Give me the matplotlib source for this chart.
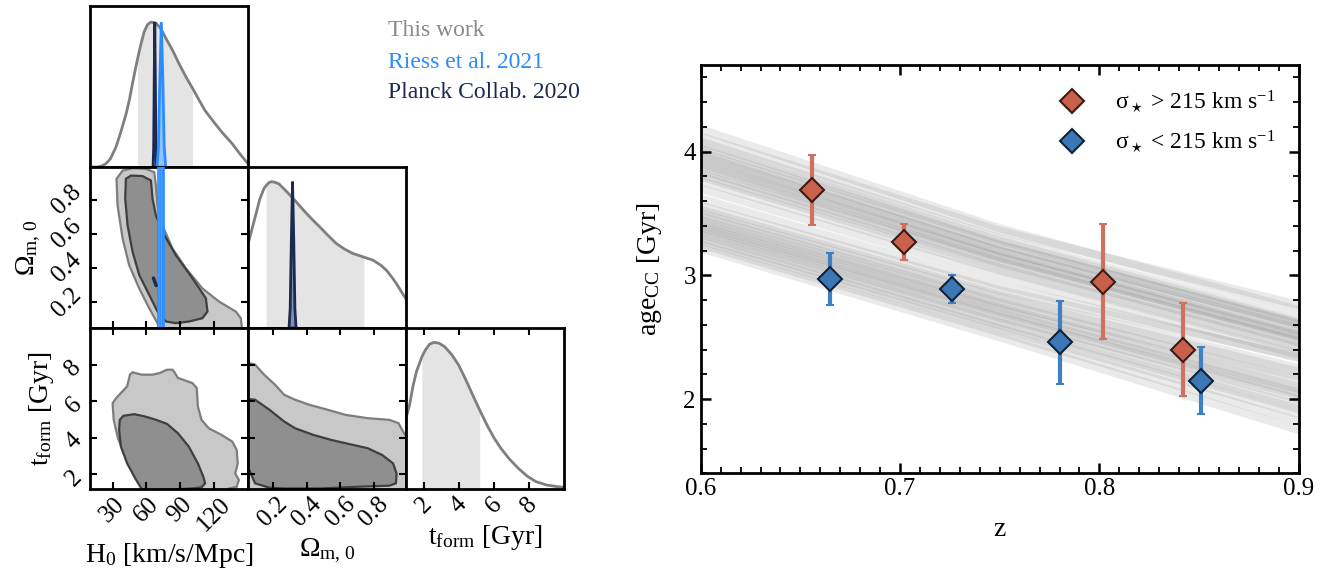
import numpy as np
import matplotlib
matplotlib.use('Agg')
import matplotlib.pyplot as plt
from matplotlib.lines import Line2D

plt.rcParams['font.family'] = ['Liberation Serif', 'DejaVu Serif']
plt.rcParams['mathtext.fontset'] = 'custom'
plt.rcParams['mathtext.rm'] = 'Liberation Serif'
plt.rcParams['mathtext.it'] = 'Liberation Serif:italic'
plt.rcParams['mathtext.bf'] = 'Liberation Serif:bold'

# ---------------- corner plot data ----------------
# 1D marginals, height as fraction of the panel
h0_x = [10, 16, 20, 24, 28, 33, 37, 42, 45, 47.7, 50, 52.1, 55, 58, 61, 64, 67.8, 71, 74.2, 78,
        83.1, 89, 95, 100.8, 106.7, 112, 118.5, 127, 136, 143, 150]
h0_y = [0, 0, 0.005, 0.02, 0.05, 0.124, 0.21, 0.33, 0.42, 0.52, 0.60, 0.67, 0.76, 0.84, 0.885, 0.9,
        0.896, 0.875, 0.84, 0.79, 0.726, 0.64, 0.56, 0.49, 0.415, 0.35, 0.29, 0.215, 0.145, 0.08, 0.02]
h0_band = (52.1, 100.8)

om_x = [0.05, 0.07, 0.094, 0.12, 0.144, 0.158, 0.175, 0.19, 0.21, 0.234, 0.27, 0.314, 0.354, 0.394,
        0.434, 0.474, 0.524, 0.574, 0.624, 0.674, 0.74, 0.794, 0.84, 0.874, 0.91, 0.934, 0.96, 0.99]
om_y = [0.52, 0.6, 0.694, 0.80, 0.864, 0.885, 0.903, 0.909, 0.905, 0.895, 0.858, 0.81, 0.763, 0.716,
        0.672, 0.631, 0.577, 0.526, 0.49, 0.463, 0.44, 0.421, 0.39, 0.358, 0.31, 0.274, 0.23, 0.18]
om_band = (0.158, 0.74)

tf_x = [1.0, 1.2, 1.4, 1.6, 1.9, 2.1, 2.35, 2.6, 2.9, 3.2, 3.6, 4.0, 4.4, 4.8, 5.2, 5.6, 6.0, 6.4,
        6.9, 7.4, 7.9, 8.4, 9.0, 9.6, 10]
tf_y = [0.44, 0.52, 0.64, 0.73, 0.82, 0.863, 0.9, 0.911, 0.905, 0.884, 0.835, 0.77, 0.68, 0.584,
        0.49, 0.40, 0.32, 0.253, 0.185, 0.128, 0.08, 0.046, 0.025, 0.015, 0.01]
tf_band = (1.9, 5.2)

# literature constraints (spikes)
riess_x = [69.3, 70.6, 71.9, 73.2, 74.5, 75.8, 77.1]
riess_y = [0, 0.12, 0.55, 0.9, 0.55, 0.12, 0]
riess_band2 = (70.6, 75.8)
riess_band1 = (71.9, 74.5)
planck_h0_x = [65.9, 66.4, 66.9, 67.4, 67.9, 68.4, 68.9]
planck_h0_y = [0, 0.12, 0.55, 0.9, 0.55, 0.12, 0]
planck_om_x = [0.294, 0.301, 0.308, 0.315, 0.322, 0.329, 0.336]
planck_om_y = [0, 0.12, 0.55, 0.909, 0.55, 0.12, 0]
planck_2d_h0 = [66.2, 68.6]
planck_2d_om = [0.342, 0.298]

# 2D credible regions
ho_out_x = [33.5, 38.9, 47.7, 59.6, 66.9, 68.4, 69.8, 74.2, 83.1, 95, 109.6, 124.4, 139.2, 143.6, 145, 71.3, 69.8, 62.5, 53.6, 44.7, 38.9, 34.4]
ho_out_y = [0.921, 0.969, 0.983, 0.979, 0.96, 0.882, 0.766, 0.649, 0.514, 0.398, 0.281, 0.204, 0.146, 0.107, 0.03, 0.03, 0.078, 0.165, 0.281, 0.417, 0.572, 0.766]
ho_in_x = [41.8, 46.3, 56.5, 64, 65.4, 68.4, 74.2, 86.1, 100.8, 112.7, 114.1, 109.6, 97.9, 86.1, 77.3, 71.3, 64, 53.6, 47.7, 43.3, 41.2]
ho_in_y = [0.921, 0.94, 0.937, 0.911, 0.805, 0.708, 0.611, 0.475, 0.34, 0.223, 0.146, 0.107, 0.088, 0.078, 0.088, 0.126, 0.223, 0.36, 0.495, 0.649, 0.805]

ht_out_x = [30, 33.2, 42.9, 45.4, 47.7, 55.7, 65.4, 71.8, 78.2, 83.1, 85.3, 87.9, 100.7, 104.6, 105.6, 108.8, 115.2, 126.5, 136.1, 140, 140.9, 138.7, 141.9, 140, 132.9, 130, 62.2, 55.7, 49.3, 41.3, 34.8, 31]
ht_out_y = [5.89, 6.17, 6.81, 7.45, 7.58, 7.45, 7.45, 7.54, 7.72, 7.72, 7.54, 7.27, 6.99, 6.72, 5.71, 4.98, 4.52, 4.16, 3.79, 3.33, 2.6, 2.05, 1.69, 1.32, 1.23, 0.9, 0.9, 1.42, 2.05, 2.97, 3.97, 4.98]
ht_in_x = [36.4, 39.6, 49.3, 58.9, 68.6, 78.2, 87.9, 97.5, 105.6, 110.4, 112, 108.8, 100.7, 71.8, 57.3, 50.9, 42.9, 37.4, 35.8]
ht_in_y = [4.98, 5.2, 5.29, 5.16, 4.98, 4.76, 4.25, 3.52, 2.6, 1.87, 1.51, 1.29, 1.23, 1.14, 1.05, 1.69, 2.6, 3.52, 4.43]

ot_out_x = [0.0, 0.042, 0.092, 0.146, 0.211, 0.265, 0.33, 0.416, 0.524, 0.632, 0.762, 0.891, 0.945, 0.978, 1.02, 1.02, 0.0]
ot_out_y = [8.12, 8.12, 8.0, 7.45, 6.9, 6.35, 6.08, 5.8, 5.53, 5.25, 5.07, 4.98, 4.8, 4.25, 3.7, 0.8, 0.8]
ot_in_x = [0.0, 0.06, 0.092, 0.178, 0.265, 0.33, 0.438, 0.546, 0.675, 0.762, 0.848, 0.913, 0.934, 0.93, 0.891, 0.697, 0.481, 0.265, 0.178, 0.092, 0.049, 0.03, 0.0]
ot_in_y = [6.1, 6.11, 6.08, 5.53, 4.89, 4.52, 4.16, 3.88, 3.61, 3.43, 3.06, 2.6, 2.05, 1.51, 1.38, 1.32, 1.23, 1.23, 1.27, 1.51, 2.42, 3.33, 3.4]

h0_ticks = [30, 60, 90, 120]
om_ticks = [0.2, 0.4, 0.6, 0.8]
tf_ticks = [2, 4, 6, 8]

# ---------------- right panel data ----------------
red_z = [0.656, 0.702, 0.802, 0.842]
red_age = [3.69, 3.27, 2.95, 2.40]
red_err = [0.28, 0.145, 0.465, 0.375]
blue_z = [0.665, 0.726, 0.780, 0.851]
blue_age = [2.97, 2.89, 2.46, 2.15]
blue_err = [0.21, 0.115, 0.335, 0.27]

z_grid = [0.6, 0.75, 0.9]
upper_lines = [[4.18, 3.38, 2.72], [4.12, 3.36, 2.76], [4.08, 3.30, 2.65], [4.05, 3.28, 2.62],
               [4.02, 3.25, 2.60], [3.99, 3.24, 2.61], [3.97, 3.20, 2.55], [3.95, 3.20, 2.57],
               [3.92, 3.17, 2.52], [3.90, 3.15, 2.50], [3.88, 3.14, 2.51], [3.85, 3.11, 2.46],
               [3.82, 3.10, 2.47], [3.80, 3.06, 2.42], [3.76, 3.04, 2.40], [3.70, 2.99, 2.36]]
lower_lines = [[3.62, 2.92, 2.33], [3.56, 2.88, 2.34], [3.53, 2.84, 2.25], [3.50, 2.82, 2.22],
               [3.48, 2.78, 2.15], [3.45, 2.77, 2.18], [3.43, 2.74, 2.10], [3.41, 2.72, 2.08],
               [3.39, 2.70, 2.05], [3.37, 2.67, 2.00], [3.35, 2.66, 2.03], [3.33, 2.62, 1.95],
               [3.30, 2.60, 1.92], [3.28, 2.57, 1.88], [3.25, 2.54, 1.82], [3.22, 2.50, 1.75]]

# ---------------- figure ----------------
W, H = 1340, 579
fig = plt.figure(figsize=(W / 100, H / 100), dpi=100)


def px_axes(x0, y0, x1, y1):
    return fig.add_axes([x0 / W, 1 - y1 / H, (x1 - x0) / W, (y1 - y0) / H])


GRAY = '#7f7f7f'
LIGHT = '#e4e4e4'
RIESS = '#2b8cff'
PLANCK = '#1c2951'


def corner_style(ax, top=True):
    for s in ax.spines.values():
        s.set_linewidth(2)
    ax.tick_params(direction='in', length=5, width=1.5, top=top, right=True, labelsize=18, pad=3)


def marginal(ax, x, y, band, lims):
    x = np.array(x)
    y = np.array(y)
    ax.fill_between(x, 0, y, where=(x >= band[0]) & (x <= band[1]), color=LIGHT, lw=0)
    ax.plot(x, y, color=GRAY, lw=2)
    ax.set_xlim(lims)
    ax.set_ylim(0, 1)
    ax.set_yticks([])


def region(ax, xo, yo, xi, yi):
    ax.fill(xo, yo, facecolor='#c8c8c8', edgecolor='#7d7d7d', lw=1.6)
    ax.fill(xi, yi, facecolor='#8f8f8f', edgecolor='#3f3f3f', lw=1.6)


H0_LIM = (10, 150)
OM_LIM = (0.05, 0.99)
TF_LIM = (1.0, 10.0)
TF_YLIM = (1.2, 10.0)

# H0 marginal
ax_h = px_axes(90, 6, 248, 167)
marginal(ax_h, h0_x, h0_y, h0_band, H0_LIM)
ax_h.fill(planck_h0_x, planck_h0_y, facecolor='#8090b0', edgecolor=PLANCK, lw=2, zorder=3)
ax_h.fill(riess_x, riess_y, facecolor='#8cc4ff', edgecolor=RIESS, lw=2, zorder=4)
ax_h.set_xticks([])
corner_style(ax_h)

# H0 - Omega
ax_ho = px_axes(90, 167, 248, 328)
region(ax_ho, ho_out_x, ho_out_y, ho_in_x, ho_in_y)
ax_ho.axvspan(*riess_band2, facecolor='#a9d2ff', edgecolor=RIESS, lw=1.2, zorder=3)
ax_ho.axvspan(*riess_band1, facecolor='#4fa3ff', edgecolor=RIESS, lw=1.2, zorder=3)
ax_ho.plot(planck_2d_h0, planck_2d_om, color=PLANCK, lw=2.5, solid_capstyle='round', zorder=4)
ax_ho.set_xlim(H0_LIM)
ax_ho.set_ylim(OM_LIM)
ax_ho.set_xticks(h0_ticks)
ax_ho.set_xticklabels([])
ax_ho.set_yticks(om_ticks)
corner_style(ax_ho, top=False)
for lab in ax_ho.get_yticklabels():
    lab.set_rotation(45)
    lab.set_va('center')
ax_ho.set_ylabel(r'$\Omega_{\mathrm{m,\,0}}$', fontsize=20, labelpad=4)

# Omega marginal
ax_o = px_axes(248, 167, 406, 328)
marginal(ax_o, om_x, om_y, om_band, OM_LIM)
ax_o.fill(planck_om_x, planck_om_y, facecolor='#8090b0', edgecolor=PLANCK, lw=2, zorder=3)
ax_o.set_xticks([])
corner_style(ax_o)

# H0 - tform
ax_ht = px_axes(90, 328, 248, 489)
region(ax_ht, ht_out_x, ht_out_y, ht_in_x, ht_in_y)
ax_ht.set_xlim(H0_LIM)
ax_ht.set_ylim(TF_YLIM)
ax_ht.set_xticks(h0_ticks)
ax_ht.set_yticks(tf_ticks)
corner_style(ax_ht)
for lab in ax_ht.get_xticklabels() + ax_ht.get_yticklabels():
    lab.set_rotation(45)
ax_ht.set_ylabel(r'$\mathrm{t_{form}}$ [Gyr]', fontsize=20, labelpad=4)
ax_ht.set_xlabel(r'$\mathrm{H_0}$ [km/s/Mpc]', fontsize=20, labelpad=4)

# Omega - tform
ax_ot = px_axes(248, 328, 406, 489)
region(ax_ot, ot_out_x, ot_out_y, ot_in_x, ot_in_y)
ax_ot.set_xlim(OM_LIM)
ax_ot.set_ylim(TF_YLIM)
ax_ot.set_xticks(om_ticks)
ax_ot.set_yticks(tf_ticks)
ax_ot.set_yticklabels([])
corner_style(ax_ot)
for lab in ax_ot.get_xticklabels():
    lab.set_rotation(45)
ax_ot.set_xlabel(r'$\Omega_{\mathrm{m,\,0}}$', fontsize=20, labelpad=4)

# tform marginal
ax_t = px_axes(406, 328, 564, 489)
marginal(ax_t, tf_x, tf_y, tf_band, TF_LIM)
ax_t.set_xticks(tf_ticks)
corner_style(ax_t)
ax_t.tick_params(right=False)
for lab in ax_t.get_xticklabels():
    lab.set_rotation(45)
ax_t.set_xlabel(r'$\mathrm{t_{form}}$ [Gyr]', fontsize=20, labelpad=4)

fig.text(388 / W, 1 - 30 / H, 'This work', color='#8a8a8a', fontsize=17, va='center')
fig.text(388 / W, 1 - 62 / H, 'Riess et al. 2021', color=RIESS, fontsize=17, va='center')
fig.text(388 / W, 1 - 93 / H, 'Planck Collab. 2020', color=PLANCK, fontsize=17, va='center')

# ---------------- right panel ----------------
RED = '#c8604c'
RED_ERR = '#d0705e'
BLUE = '#3b77b5'
BLUE_ERR = '#3f80c2'

ax = px_axes(700.7, 65, 1298.7, 473.3)
for a in upper_lines + lower_lines:
    ax.plot(z_grid, a, color='gray', alpha=0.16, lw=6, solid_capstyle='butt', zorder=1)

ax.errorbar(red_z, red_age, yerr=red_err, fmt='D', ms=12, mfc=RED, mec='#3a1c14', mew=1.5,
            ecolor=RED_ERR, elinewidth=3, capsize=3, capthick=2.5, zorder=5)
ax.errorbar(blue_z, blue_age, yerr=blue_err, fmt='D', ms=12, mfc=BLUE, mec='#0f2238', mew=1.5,
            ecolor=BLUE_ERR, elinewidth=3, capsize=3, capthick=2.5, zorder=5)

ax.set_xlim(0.6, 0.9)
ax.set_ylim(1.4, 4.7)
ax.set_xticks([0.6, 0.7, 0.8, 0.9])
ax.set_xticks(np.arange(0.6, 0.9001, 0.01), minor=True)
ax.set_yticks([2, 3, 4])
ax.set_yticks(np.arange(1.4, 4.7001, 0.2), minor=True)
for s in ax.spines.values():
    s.set_linewidth(2)
ax.tick_params(which='both', direction='in', top=True, right=True, labelsize=18)
ax.tick_params(which='major', length=7, width=1.8)
ax.tick_params(which='minor', length=4, width=1.3)
ax.set_xlabel('z', fontsize=20, labelpad=12)
ax.set_ylabel(r'$\mathrm{age_{CC}}$ [Gyr]', fontsize=20, labelpad=14)

handles = [Line2D([], [], ls='none', marker='D', ms=12, mfc=RED, mec='#3a1c14', mew=1.5),
           Line2D([], [], ls='none', marker='D', ms=12, mfc=BLUE, mec='#0f2238', mew=1.5)]
labels = [r'$\mathrm{\sigma_\star}$ > 215 km s$^{-1}$', r'$\mathrm{\sigma_\star}$ < 215 km s$^{-1}$']
ax.legend(handles, labels, loc='upper right', frameon=False, fontsize=17,
          handletextpad=0.8, labelspacing=0.6, borderaxespad=0.6)

fig.savefig('out.png', dpi=100)
